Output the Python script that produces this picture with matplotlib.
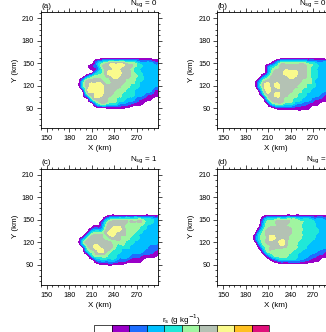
import numpy as np
import matplotlib
matplotlib.use("Agg")
import matplotlib.pyplot as plt
import matplotlib.tri as mtri
from matplotlib.colors import ListedColormap, BoundaryNorm
from matplotlib.ticker import MultipleLocator
import matplotlib as mpl

plt.rcParams['font.family'] = ['Liberation Sans', 'DejaVu Sans']

# grid coordinates (km)
x_km = [186, 192, 198, 204, 210, 216, 222, 228, 234, 240, 246, 252, 258, 264, 270, 276, 282, 288, 294, 300]
y_km = [162, 156, 150, 144, 138, 132, 126, 120, 114, 108, 102, 96, 90, 84]

# contour class of r_s (0 = below first level)
rs_a = [
    [0, 0, 0, 0, 0, 0, 0, 0, 0, 0, 0, 0, 0, 0, 0, 0, 0, 0, 0, 0],
    [0, 0, 0, 0, 0, 0, .3, .6, .6, .6, .6, .6, .6, .6, .6, .6, .5, .4, .3, .3],
    [0, 0, 0, 0, 0, 2, 4, 5, 6, 6, 6, 6, 5, 5, 4, 3, 3, 3, 2, 2],
    [0, 0, 0, 0, 1.2, 1.5, 4, 6, 6, 7, 7, 6, 6, 5, 4, 3.5, 3, 3, 3, 3],
    [0, 0, 0, 0, 0, 2.5, 4, 5.6, 7, 7, 7, 6, 6, 5, 4, 3.5, 3, 3, 3, 3],
    [0, 0, 0, 2, 4, 5, 5, 5.4, 6, 7, 6.6, 6, 6, 5, 4.5, 4, 3, 3, 3, 3],
    [0, 0, 3, 6, 6, 6, 6, 5, 5.3, 6, 6, 6, 5, 5, 4, 3.5, 3, 3, 3, 3],
    [0, 0, 4, 6, 7, 7, 7, 6, 5.6, 6, 6, 5, 5, 4, 4, 3, 3, 3, 3, 2],
    [0, 0, 1, 6, 7, 7, 7, 6, 6, 5.8, 5, 5, 4, 4, 3, 3, 3, 3, 1.5, 1.5],
    [0, 0, 0, 4, 6, 7, 7, 6, 6, 5, 5, 4, 4, 4, 3, 3, 2, 1.5, 1, 1],
    [0, 0, 0, 0, 4, 6, 6, 6, 5, 5, 4, 4, 3, 3, 2, 1.5, 1, .7, 0, 0],
    [0, 0, 0, 0, 0, 3, 5, 5, 4, 4, 3, 2.5, 2, 1.5, 1, .8, 0, 0, 0, 0],
    [0, 0, 0, 0, 0, 0, 0, .4, .6, .6, .6, .5, .4, 0, 0, 0, 0, 0, 0, 0],
    [0, 0, 0, 0, 0, 0, 0, 0, 0, 0, 0, 0, 0, 0, 0, 0, 0, 0, 0, 0],
]

rs_b = [
    [0, 0, 0, 0, 0, 0, 0, 0, 0, 0, 0, 0, 0, 0, 0, 0, 0, 0, 0, 0],
    [0, 0, 0, 0, 0, 0, 0, .5, .6, .6, .6, .6, .6, .6, .5, .5, .4, .3, .3, .3],
    [0, 0, 0, 0, 0, 1, 3, 5, 5, 5, 5, 5, 5, 4, 4, 3, 3, 3, 2, 2],
    [0, 0, 0, 0, 2, 4, 5, 6, 6, 6, 6, 6, 6, 5, 4, 3.5, 3, 3, 3, 3],
    [0, 0, 0, 0, 2, 5, 6, 6, 7, 7, 7, 6, 6, 5, 4, 3.5, 3, 3, 3, 3],
    [0, 0, 0, 2, 4, 6, 6, 6, 6, 7, 6.6, 6, 6, 5, 4, 3.5, 3, 3, 3, 3],
    [0, 0, 2, 5, 6, 6, 6, 6, 6, 6, 6, 6, 5, 5, 4, 3, 3, 3, 3, 3],
    [0, 0, 3, 6, 7, 6, 7, 6, 6, 6, 6, 5, 5, 4, 4, 3, 3, 3, 3, 3],
    [0, 0, 1, 5, 7, 6, 6, 6, 6, 6, 5, 5, 4, 4, 3, 3, 3, 3, 2, 2],
    [0, 0, 0, 3, 6, 6, 7, 6, 6, 5, 5, 4, 4, 3, 3, 3, 2, 1.5, 1.5, 1.5],
    [0, 0, 0, 0, 4, 6, 6, 6, 5, 5, 4, 4, 3, 3, 2, 1.5, 1.2, 1, .8, 0],
    [0, 0, 0, 0, 1, 4, 5, 5, 4, 4, 3, 2.5, 2, 1.5, 1, .8, 0, 0, 0, 0],
    [0, 0, 0, 0, 0, 0, 1, 1.2, 1.2, 1.2, 1, 1, .8, .6, 0, 0, 0, 0, 0, 0],
    [0, 0, 0, 0, 0, 0, 0, 0, 0, 0, 0, 0, 0, 0, 0, 0, 0, 0, 0, 0],
]

rs_c = [
    [0, 0, 0, 0, 0, 0, 0, 0, 0, 0, 0, 0, 0, 0, 0, 0, 0, 0, 0, 0],
    [0, 0, 0, 0, 0, 0, 0, 0, .4, .6, .6, .6, .6, .6, .6, .6, .6, .6, .5, .5],
    [0, 0, 0, 0, 0, 0, 0, 2, 4, 5, 5, 5, 5, 5, 5, 5, 4, 4, 3, 3],
    [0, 0, 0, 0, 0, 0, 1, 4, 6, 6, 6, 6, 5, 5, 5, 5, 4, 3.5, 3, 3],
    [0, 0, 0, 0, 1, 2, 2, 5, 6, 7, 7, 6, 5, 5, 5, 4, 3.5, 3, 3, 3],
    [0, 0, 0, 1, 4, 5, 5, 5.6, 7, 7, 6, 6, 5, 5, 4, 3.5, 3, 3, 3, 3],
    [0, 0, 1, 4, 6, 6, 6, 5, 5.6, 6, 6, 5, 5, 4, 4, 3, 3, 3, 3, 3],
    [0, 0, 4, 6, 6, 6, 6, 6, 5.6, 5, 5, 5, 4, 4, 3, 3, 3, 3, 3, 2],
    [0, 0, 1, 5, 6, 7, 6, 6, 6, 5, 4, 4, 4, 3, 3, 3, 3, 2, 2, 2],
    [0, 0, 0, 3, 5, 6, 7, 6, 5, 4, 4, 3, 3, 3, 3, 3, 2, 2, 1.5, 1],
    [0, 0, 0, 0, 3, 5, 5, 5, 4, 4, 3, 3, 3, 2, 2, 1.5, 1.2, 1, .8, 0],
    [0, 0, 0, 0, 0, 2, 3, 3, 3, 3, 2, 2, 1.5, 1, 1, .8, 0, 0, 0, 0],
    [0, 0, 0, 0, 0, 0, .4, .6, .7, .6, .5, .4, 0, 0, 0, 0, 0, 0, 0, 0],
    [0, 0, 0, 0, 0, 0, 0, 0, 0, 0, 0, 0, 0, 0, 0, 0, 0, 0, 0, 0],
]

rs_d = [
    [0, 0, 0, 0, 0, 0, 0, 0, 0, 0, 0, 0, 0, 0, 0, 0, 0, 0, 0, 0],
    [0, 0, 0, 0, .4, .6, .6, .6, .6, .6, .6, .6, .5, .5, .5, .5, .5, .5, .5, .5],
    [0, 0, 0, 2, 4, 4, 5, 5, 5, 5, 5, 4, 4, 4, 3, 3, 3, 2, 2, 2],
    [0, 0, 0, 3, 5, 5, 5.6, 6, 5.6, 5, 5, 5, 4, 4, 4, 3, 3, 3, 3, 3],
    [0, 0, 1, 4, 5.6, 6, 6, 6, 6, 5.6, 5, 5, 4, 4, 4, 3.5, 3, 3, 3, 3],
    [0, 0, 3, 5, 6, 6, 6, 6, 6, 5.6, 5, 5, 4, 4, 4, 3.5, 3, 3, 3, 3],
    [0, 1, 4, 5, 6, 7, 6, 6, 6, 5, 5, 5, 4, 4, 4, 3, 3, 3, 3, 3],
    [0, 0, 3, 5, 6, 6, 6, 7, 6, 5, 5, 4, 4, 4, 3, 3, 3, 3, 3, 3],
    [0, 0, 1, 4, 5, 6, 6, 6, 5.6, 5, 5, 4, 4, 3, 3, 3, 3, 3, 2, 2],
    [0, 0, 0, 2, 5, 5, 5, 5, 5, 5, 4, 4, 3, 3, 3, 2.5, 2, 1.5, 1.5, 1],
    [0, 0, 0, 0, 2, 4, 5, 5, 5, 4, 4, 3, 3, 2.5, 2, 1.5, 1.2, 1, .8, 0],
    [0, 0, 0, 0, 0, 1, 2, 3, 3, 3, 3, 2.5, 2, 1.5, 1, .8, 0, 0, 0, 0],
    [0, 0, 0, 0, 0, 0, 0, 0, 0, 0, 0, 0, 0, 0, 0, 0, 0, 0, 0, 0],
    [0, 0, 0, 0, 0, 0, 0, 0, 0, 0, 0, 0, 0, 0, 0, 0, 0, 0, 0, 0],
]

panel_tags = ["(a)", "(b)", "(c)", "(d)"]
nsg_values = ["0", "0.5", "1", "2"]
x_ticks = [150, 180, 210, 240, 270]
y_ticks = [90, 120, 150, 180, 210]
class_bounds = [-0.5, 0.5, 1.5, 2.5, 3.5, 4.5, 5.5, 6.5, 7.5, 8.5, 9.5]
colors = ['#ffffff', '#9a00c8', '#1e6eff', '#00c0ff', '#20e8d8',
          '#a0f5a0', '#b4c2b4', '#fafa8c', '#ffc020', '#e0107a']

cmap = ListedColormap(colors)
norm = BoundaryNorm(class_bounds, cmap.N)

W, H = 326, 332
fig = plt.figure(figsize=(W / 100, H / 100), dpi=100)

axw, axh = 116.7, 116.0
positions = [(41, 12.3), (217.3, 12.3), (41, 168.8), (217.3, 168.8)]
fields = [rs_a, rs_b, rs_c, rs_d]

gx, gy = np.meshgrid(x_km, y_km)
tri = mtri.Triangulation(gx.ravel(), gy.ravel())
refiner = mtri.UniformTriRefiner(tri)

for (px, py), fld, tag, nsg in zip(positions, fields, panel_tags, nsg_values):
    ax = fig.add_axes([px / W, 1 - (py + axh) / H, axw / W, axh / H])
    z = np.array(fld, dtype=float).ravel()
    tri_f, z_f = refiner.refine_field(z, subdiv=3)
    ax.tricontourf(tri_f, z_f, levels=class_bounds, cmap=cmap, norm=norm,
                   extend='both')
    ax.set_xlim(142.4, 298)
    ax.set_ylim(63, 218)
    ax.set_xticks(x_ticks)
    ax.set_yticks(y_ticks)
    ax.xaxis.set_minor_locator(MultipleLocator(7.5))
    ax.yaxis.set_minor_locator(MultipleLocator(7.5))
    ax.tick_params(which='both', direction='out', top=True, right=True,
                   labelsize=5.2, width=0.5, pad=2)
    ax.tick_params(which='major', length=3)
    ax.tick_params(which='minor', length=1.5)
    for s in ax.spines.values():
        s.set_linewidth(0.6)
    ax.set_xlabel('X (km)', fontsize=5.8, labelpad=2)
    ax.set_ylabel('Y (km)', fontsize=5.8, labelpad=2)
    ax.text(0.0, 1.02, tag, transform=ax.transAxes, fontsize=5.8,
            ha='left', va='bottom')
    ax.text(1.0, 1.02, r'N$_{\rm sg}$ = ' + nsg, transform=ax.transAxes,
            fontsize=5.8, ha='right', va='bottom')

cax = fig.add_axes([94 / W, 1 - 345 / H, 175 / W, 20 / H])
cb = mpl.colorbar.ColorbarBase(cax, cmap=cmap, norm=norm, boundaries=class_bounds,
                               orientation='horizontal', drawedges=True)
cb.outline.set_linewidth(0.5)
cb.dividers.set_linewidth(0.5)
cax.set_xticks([])
fig.text(181.5 / W, 1 - 320 / H, r'r$_{\rm s}$ (g kg$^{-1}$)', fontsize=5.8,
         ha='center', va='center')

fig.savefig('out.png', dpi=100)
